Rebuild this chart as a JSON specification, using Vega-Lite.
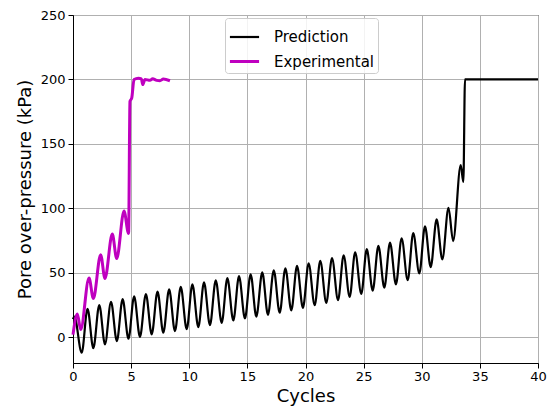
{
  "$schema": "https://vega.github.io/schema/vega-lite/v6.json",
  "width": 465,
  "height": 348,
  "autosize": {"type": "none"},
  "padding": {"left": 73, "top": 15, "right": 12, "bottom": 50},
  "background": "white",
  "config": {
    "font": "DejaVu Sans",
    "view": {"stroke": "black", "strokeWidth": 1},
    "axis": {
      "domainColor": "black",
      "tickColor": "black",
      "tickSize": 5,
      "labelFontSize": 13,
      "labelColor": "black",
      "labelFont": "DejaVu Sans",
      "titleFont": "DejaVu Sans",
      "titleFontSize": 18,
      "titleFontWeight": "normal",
      "titleColor": "black",
      "gridColor": "#b0b0b0",
      "gridWidth": 1
    },
    "legend": {
      "labelFont": "DejaVu Sans"
    }
  },
  "data": {
    "values": [
      {"series": "Prediction", "x": 0, "y": 14},
      {"series": "Prediction", "x": 0.12, "y": 16},
      {"series": "Prediction", "x": 0.75, "y": -12},
      {"series": "Prediction", "x": 1.25, "y": 22},
      {"series": "Prediction", "x": 1.75, "y": -8.5},
      {"series": "Prediction", "x": 2.26, "y": 25},
      {"series": "Prediction", "x": 2.75, "y": -5.5},
      {"series": "Prediction", "x": 3.27, "y": 27.5},
      {"series": "Prediction", "x": 3.77, "y": -3},
      {"series": "Prediction", "x": 4.27, "y": 29.5},
      {"series": "Prediction", "x": 4.77, "y": -1.2},
      {"series": "Prediction", "x": 5.26, "y": 31.8},
      {"series": "Prediction", "x": 5.76, "y": 0.3},
      {"series": "Prediction", "x": 6.27, "y": 33.5},
      {"series": "Prediction", "x": 6.77, "y": 2.2},
      {"series": "Prediction", "x": 7.27, "y": 35.3},
      {"series": "Prediction", "x": 7.77, "y": 3.5},
      {"series": "Prediction", "x": 8.27, "y": 37.1},
      {"series": "Prediction", "x": 8.77, "y": 4.8},
      {"series": "Prediction", "x": 9.27, "y": 39},
      {"series": "Prediction", "x": 9.78, "y": 6.2},
      {"series": "Prediction", "x": 10.27, "y": 41},
      {"series": "Prediction", "x": 10.78, "y": 7.8},
      {"series": "Prediction", "x": 11.27, "y": 42.5},
      {"series": "Prediction", "x": 11.78, "y": 9.4},
      {"series": "Prediction", "x": 12.28, "y": 44.2},
      {"series": "Prediction", "x": 12.79, "y": 11.2},
      {"series": "Prediction", "x": 13.28, "y": 45.8},
      {"series": "Prediction", "x": 13.79, "y": 13},
      {"series": "Prediction", "x": 14.28, "y": 47.4},
      {"series": "Prediction", "x": 14.79, "y": 14.6},
      {"series": "Prediction", "x": 15.28, "y": 48.8},
      {"series": "Prediction", "x": 15.77, "y": 16},
      {"series": "Prediction", "x": 16.28, "y": 50.3},
      {"series": "Prediction", "x": 16.77, "y": 17.4},
      {"series": "Prediction", "x": 17.27, "y": 51.9},
      {"series": "Prediction", "x": 17.78, "y": 19},
      {"series": "Prediction", "x": 18.27, "y": 53.5},
      {"series": "Prediction", "x": 18.78, "y": 20.8},
      {"series": "Prediction", "x": 19.27, "y": 55.4},
      {"series": "Prediction", "x": 19.78, "y": 22.8},
      {"series": "Prediction", "x": 20.27, "y": 57.3},
      {"series": "Prediction", "x": 20.79, "y": 24.8},
      {"series": "Prediction", "x": 21.27, "y": 59.2},
      {"series": "Prediction", "x": 21.79, "y": 26.7},
      {"series": "Prediction", "x": 22.28, "y": 61.3},
      {"series": "Prediction", "x": 22.8, "y": 28.8},
      {"series": "Prediction", "x": 23.28, "y": 63.6},
      {"series": "Prediction", "x": 23.8, "y": 31.3},
      {"series": "Prediction", "x": 24.27, "y": 65.9},
      {"series": "Prediction", "x": 24.8, "y": 33.7},
      {"series": "Prediction", "x": 25.27, "y": 68.3},
      {"series": "Prediction", "x": 25.78, "y": 36.2},
      {"series": "Prediction", "x": 26.27, "y": 70.9},
      {"series": "Prediction", "x": 26.78, "y": 38.4},
      {"series": "Prediction", "x": 27.27, "y": 73.5},
      {"series": "Prediction", "x": 27.78, "y": 41},
      {"series": "Prediction", "x": 28.27, "y": 76.8},
      {"series": "Prediction", "x": 28.79, "y": 44.2},
      {"series": "Prediction", "x": 29.27, "y": 80.8},
      {"series": "Prediction", "x": 29.79, "y": 49.5},
      {"series": "Prediction", "x": 30.28, "y": 86},
      {"series": "Prediction", "x": 30.77, "y": 54.4},
      {"series": "Prediction", "x": 31.28, "y": 91.5},
      {"series": "Prediction", "x": 31.77, "y": 60.4},
      {"series": "Prediction", "x": 32.3, "y": 100.3},
      {"series": "Prediction", "x": 32.7, "y": 74.6},
      {"series": "Prediction", "x": 33.35, "y": 133.5},
      {"series": "Prediction", "x": 33.58, "y": 120.5},
      {"series": "Prediction", "x": 33.72, "y": 200},
      {"series": "Prediction", "x": 40, "y": 200},
      {"series": "Experimental", "x": 0, "y": 2},
      {"series": "Experimental", "x": 0.37, "y": 18},
      {"series": "Experimental", "x": 0.66, "y": 6},
      {"series": "Experimental", "x": 1.38, "y": 46},
      {"series": "Experimental", "x": 1.75, "y": 30},
      {"series": "Experimental", "x": 2.38, "y": 64},
      {"series": "Experimental", "x": 2.75, "y": 45.6},
      {"series": "Experimental", "x": 3.38, "y": 80},
      {"series": "Experimental", "x": 3.76, "y": 61},
      {"series": "Experimental", "x": 4.39, "y": 98},
      {"series": "Experimental", "x": 4.78, "y": 80.5},
      {"series": "Experimental", "x": 4.9, "y": 183},
      {"series": "Experimental", "x": 5.05, "y": 185.5},
      {"series": "Experimental", "x": 5.25, "y": 200},
      {"series": "Experimental", "x": 5.62, "y": 201},
      {"series": "Experimental", "x": 5.88, "y": 200.5},
      {"series": "Experimental", "x": 6.0, "y": 196},
      {"series": "Experimental", "x": 6.19, "y": 200},
      {"series": "Experimental", "x": 6.62, "y": 199.3},
      {"series": "Experimental", "x": 6.85, "y": 200.5},
      {"series": "Experimental", "x": 7.2, "y": 199.3},
      {"series": "Experimental", "x": 7.48, "y": 199},
      {"series": "Experimental", "x": 7.77, "y": 200.3},
      {"series": "Experimental", "x": 8.34, "y": 199}
    ]
  },
  "mark": {"type": "line", "interpolate": "monotone"},
  "encoding": {
    "x": {
      "field": "x",
      "type": "quantitative",
      "scale": {"domain": [0, 40], "nice": false},
      "axis": {"title": "Cycles", "values": [0, 5, 10, 15, 20, 25, 30, 35, 40], "labelPadding": 2, "titlePadding": 4, "labelFlush": false}
    },
    "y": {
      "field": "y",
      "type": "quantitative",
      "scale": {"domain": [-20, 250], "nice": false, "zero": false},
      "axis": {"title": "Pore over-pressure (kPa)", "values": [0, 50, 100, 150, 200, 250], "labelPadding": 3, "titlePadding": 6, "labelFlush": false}
    },
    "color": {
      "field": "series",
      "type": "nominal",
      "sort": ["Prediction", "Experimental"],
      "scale": {"domain": ["Prediction", "Experimental"], "range": ["#000000", "#bf00bf"]},
      "legend": {
        "title": null,
        "orient": "none",
        "legendX": 152,
        "legendY": 3,
        "symbolType": "stroke",
        "symbolSize": 850,
        "symbolStrokeWidth": 2.5,
        "labelFontSize": 15,
        "labelColor": "black",
        "labelOffset": 13,
        "padding": 3,
        "rowPadding": -8,
        "strokeColor": "#cccccc",
        "fillColor": "rgba(255,255,255,0.85)",
        "cornerRadius": 3
      }
    },
    "strokeWidth": {
      "field": "series",
      "type": "nominal",
      "sort": ["Prediction", "Experimental"],
      "scale": {"domain": ["Prediction", "Experimental"], "range": [2.2, 3]},
      "legend": null
    }
  }
}
